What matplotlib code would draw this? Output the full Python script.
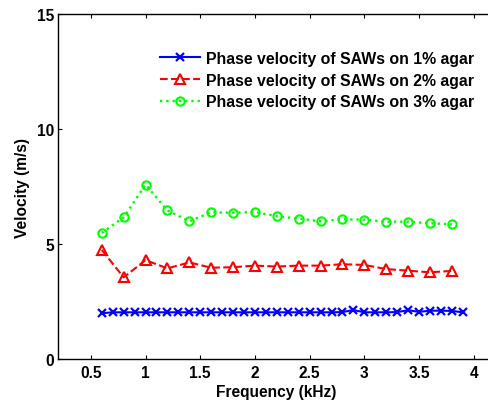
import matplotlib
matplotlib.use("Agg")
import matplotlib.pyplot as plt

freq_blue = [0.6, 0.7, 0.8, 0.9, 1.0, 1.1, 1.2, 1.3, 1.4, 1.5, 1.6, 1.7, 1.8, 1.9, 2.0,
             2.1, 2.2, 2.3, 2.4, 2.5, 2.6, 2.7, 2.8, 2.9, 3.0, 3.1, 3.2, 3.3, 3.4, 3.5,
             3.6, 3.7, 3.8, 3.9]
vel_1pct = [1.99, 2.03, 2.03, 2.03, 2.03, 2.03, 2.03, 2.03, 2.03, 2.03, 2.03, 2.03, 2.03, 2.03, 2.03,
            2.03, 2.03, 2.03, 2.03, 2.03, 2.03, 2.03, 2.04, 2.13, 2.03, 2.03, 2.03, 2.04, 2.12, 2.05,
            2.1, 2.1, 2.09, 2.03]
freq = [0.6, 0.8, 1.0, 1.2, 1.4, 1.6, 1.8, 2.0, 2.2, 2.4, 2.6, 2.8, 3.0, 3.2, 3.4, 3.6, 3.8]
vel_2pct = [4.74, 3.55, 4.30, 3.94, 4.20, 3.97, 3.99, 4.06, 4.02, 4.06, 4.06, 4.12, 4.09, 3.91, 3.84, 3.77, 3.83]
vel_3pct = [5.48, 6.16, 7.58, 6.46, 5.99, 6.38, 6.36, 6.39, 6.21, 6.10, 5.99, 6.07, 6.06, 5.97, 5.97, 5.90, 5.86]
labels = ["Phase velocity of SAWs on 1% agar",
          "Phase velocity of SAWs on 2% agar",
          "Phase velocity of SAWs on 3% agar"]
xticks = [0.5, 1, 1.5, 2, 2.5, 3, 3.5, 4]
xticklabels = ["0.5", "1", "1.5", "2", "2.5", "3", "3.5", "4"]
yticks = [0, 5, 10, 15]

plt.rcParams['font.family'] = ['Liberation Sans', 'DejaVu Sans']
plt.rcParams['font.weight'] = 'bold'
plt.rcParams['font.size'] = 11.2

fig = plt.figure(figsize=(4.88, 4.02), dpi=100)
W, H = 488, 402
ax = fig.add_axes([58 / W, 1 - 360 / H, (488 - 58) / W, 345 / H])

ax.plot(freq_blue, vel_1pct, color=(0, 0, 1), ls='-', lw=1.5, marker='x',
        ms=5.5, mew=1.6, label=labels[0])
ax.plot(freq, vel_2pct, color=(1, 0, 0), ls='--', lw=1.5, marker='^',
        ms=7.5, mew=1.5, mfc='none', label=labels[1])
ax.plot(freq, vel_3pct, color=(0, 1, 0), ls=':', lw=1.7, marker='o',
        ms=6, mew=1.5, mfc='none', label=labels[2])

# right part of the original axes box is cropped off in the reference
ax.set_xlim(0.2, 4.13)
ax.set_ylim(0, 15)
ax.set_xticks(xticks)
ax.set_xticklabels(xticklabels, fontweight='bold')
ax.set_yticks(yticks)
ax.set_yticklabels([str(v) for v in yticks], fontweight='bold')
ax.tick_params(direction='in', length=3, width=0.8, top=True, right=False, pad=4)
ax.tick_params(axis='y', pad=3)
ax.spines['right'].set_visible(False)
for s in ax.spines.values():
    s.set_linewidth(1.0)

ax.set_xlabel("Frequency (kHz)", fontweight='bold')
ax.xaxis.set_label_coords((276 - 58) / (488 - 58), -0.072)
ax.set_ylabel("Velocity (m/s)", fontweight='bold', labelpad=5)

leg = ax.legend(loc='upper left', bbox_to_anchor=(160 / W, 1 - 52 / H),
                bbox_transform=fig.transFigure, frameon=False,
                handlelength=2.55, handletextpad=0.35, labelspacing=0.42,
                borderaxespad=0, borderpad=0, fontsize=11.4)
for t in leg.get_texts():
    t.set_fontweight('bold')

fig.savefig("out.png", dpi=100)
